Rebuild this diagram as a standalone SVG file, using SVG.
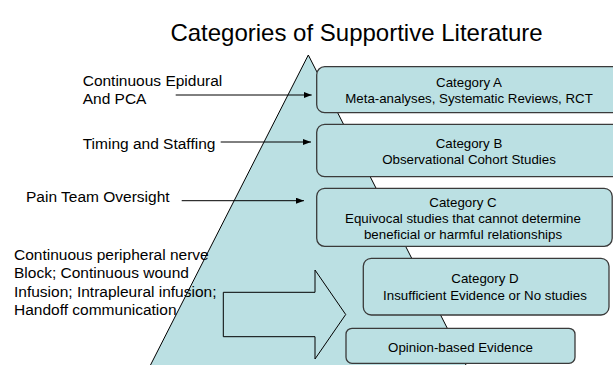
<svg xmlns="http://www.w3.org/2000/svg" width="613" height="365" viewBox="0 0 613 365">
<defs>
<style>
.t{font-family:"Liberation Sans",Arial,sans-serif;fill:#000}
.bx{fill:#bbe0e3;stroke:#3a3a3a;stroke-width:1.3}
.bt{font-size:13.3px;text-anchor:middle}
.lb{font-size:15.5px}
.ln{stroke:#000;stroke-width:1;fill:none}
</style>
<marker id="ah" viewBox="0 0 8 6" refX="8" refY="3" markerWidth="8" markerHeight="6" markerUnits="userSpaceOnUse" orient="auto">
<path d="M0,0 L8,3 L0,6 z" fill="#000"/>
</marker>
</defs>
<rect width="613" height="365" fill="#fff"/>
<text class="t" x="356.5" y="41" font-size="24" text-anchor="middle">Categories of Supportive Literature</text>
<g id="pyramid">
<polygon points="308.3,55 150,366 466.5,366" fill="#bbe0e3" stroke="#000" stroke-width="1"/>
</g>
<g id="bigarrow">
<polygon points="223.3,292.3 315,292.3 315,270 345.7,314.5 315,359 315,336.7 223.3,336.7" fill="none" stroke="#000" stroke-width="1"/>
</g>
<g id="catA">
<rect class="bx" x="316.7" y="66.7" width="306" height="46" rx="8"/>
<text class="t bt" x="469" y="87.3">Category A</text>
<text class="t bt" x="469" y="103.3">Meta-analyses, Systematic Reviews, RCT</text>
</g>
<g id="catB">
<rect class="bx" x="316.7" y="124.3" width="306" height="52.4" rx="8"/>
<text class="t bt" x="469" y="148.3">Category B</text>
<text class="t bt" x="469" y="164">Observational Cohort Studies</text>
</g>
<g id="catC">
<rect class="bx" x="316.7" y="188.3" width="295.5" height="58" rx="8"/>
<text class="t bt" x="463" y="206.7">Category C</text>
<text class="t bt" x="463" y="222.7">Equivocal studies that cannot determine</text>
<text class="t bt" x="463" y="238.7">beneficial or harmful relationships</text>
</g>
<g id="catD">
<rect class="bx" x="363.3" y="258.3" width="245.7" height="56.7" rx="8"/>
<text class="t bt" x="485" y="283.3">Category D</text>
<text class="t bt" x="485" y="300">Insufficient Evidence or No studies</text>
</g>
<g id="opinion">
<rect class="bx" x="346" y="328.3" width="229" height="35" rx="6"/>
<text class="t bt" x="460.5" y="351.7">Opinion-based Evidence</text>
</g>
<g id="labels">
<text class="t lb" x="82.7" y="86">Continuous Epidural</text>
<text class="t lb" x="82.7" y="104">And PCA</text>
<text class="t lb" x="82.7" y="149.3">Timing and Staffing</text>
<text class="t lb" x="26" y="201.7">Pain Team Oversight</text>
<text class="t lb" x="14" y="260">Continuous peripheral nerve</text>
<text class="t lb" x="14" y="278.3">Block; Continuous wound</text>
<text class="t lb" x="14" y="296.7">Infusion; Intrapleural infusion;</text>
<text class="t lb" x="14" y="315">Handoff communication</text>
</g>
<g id="connectors">
<line class="ln" x1="175.7" y1="95" x2="311.7" y2="95" marker-end="url(#ah)"/>
<line class="ln" x1="220.7" y1="142" x2="311" y2="142" marker-end="url(#ah)"/>
<line class="ln" x1="181.7" y1="200.7" x2="304" y2="200.7" marker-end="url(#ah)"/>
</g>
</svg>
